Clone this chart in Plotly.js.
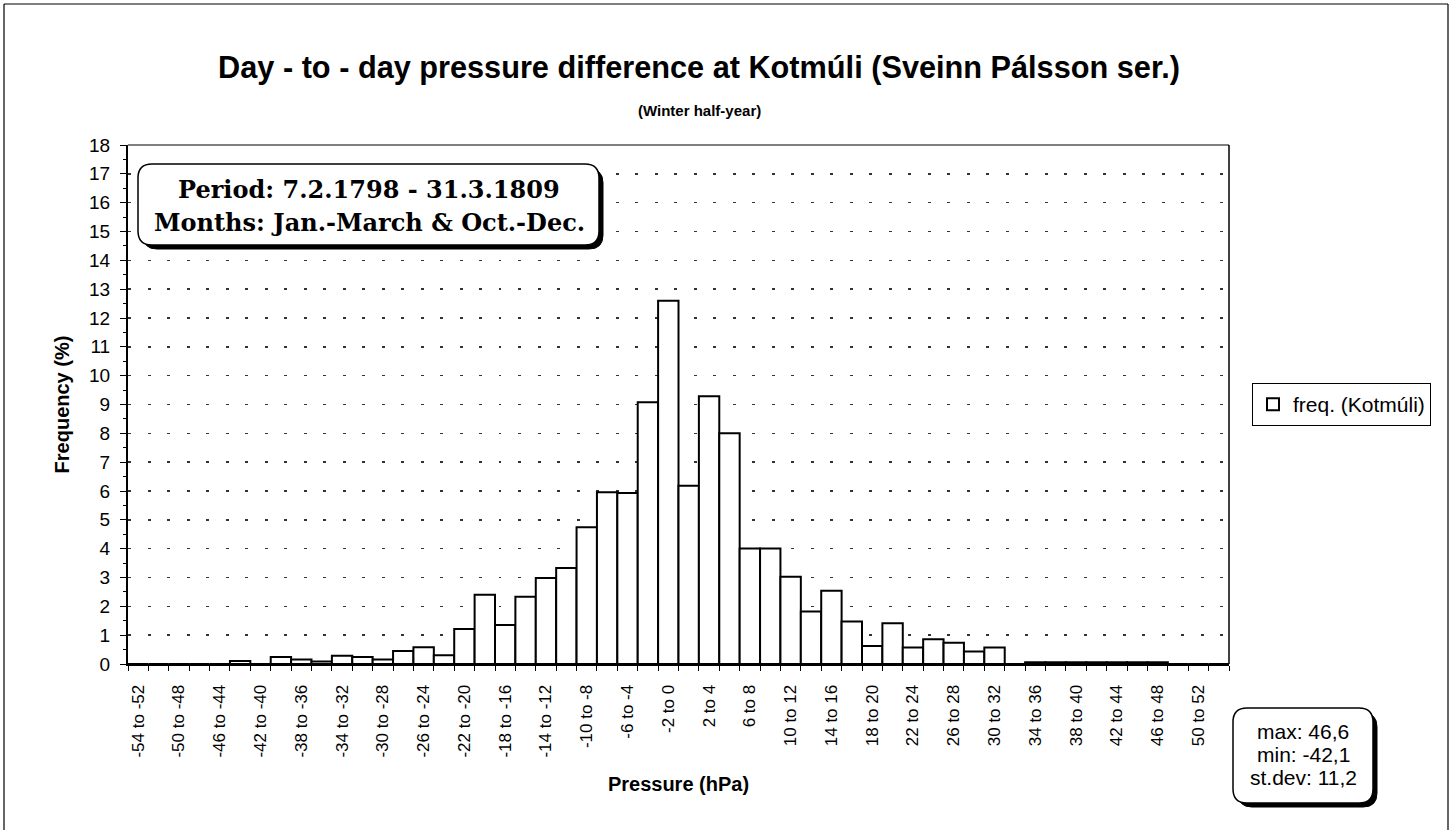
<!DOCTYPE html>
<html>
<head>
<meta charset="utf-8">
<script src="https://cdn.plot.ly/plotly-3.0.1.min.js"></script>
<style>html,body{margin:0;padding:0;background:#fff;}#chart{width:1455px;height:830px;}</style>
</head>
<body>
<div id="chart"></div>
<script>
// ---- data ----
const categories = [
  "-54 to -52","-52 to -50","-50 to -48","-48 to -46","-46 to -44","-44 to -42",
  "-42 to -40","-40 to -38","-38 to -36","-36 to -34","-34 to -32","-32 to -30",
  "-30 to -28","-28 to -26","-26 to -24","-24 to -22","-22 to -20","-20 to -18",
  "-18 to -16","-16 to -14","-14 to -12","-12 to -10","-10 to -8","-8 to -6",
  "-6 to -4","-4 to -2","-2 to 0","0 to 2","2 to 4","4 to 6",
  "6 to 8","8 to 10","10 to 12","12 to 14","14 to 16","16 to 18",
  "18 to 20","20 to 22","22 to 24","24 to 26","26 to 28","28 to 30",
  "30 to 32","32 to 34","34 to 36","36 to 38","38 to 40","40 to 42",
  "42 to 44","44 to 46","46 to 48","48 to 50","50 to 52","52 to 54"
];
const freq = [
  0, 0, 0, 0, 0, 0.10,
  0, 0.24, 0.16, 0.09, 0.29, 0.24,
  0.16, 0.45, 0.58, 0.30, 1.21, 2.40,
  1.35, 2.33, 2.98, 3.33, 4.74, 5.96,
  5.93, 9.08, 12.60, 6.18, 9.29, 8.00,
  4.01, 4.01, 3.03, 1.82, 2.54, 1.47,
  0.62, 1.41, 0.57, 0.86, 0.74, 0.43,
  0.57, 0, 0.06, 0.06, 0.06, 0.06,
  0.06, 0.06, 0.06, 0, 0, 0
];
const seriesName = "freq. (Kotmúli)";
const titleText = "Day - to - day pressure difference at Kotmúli (Sveinn Pálsson ser.)";
const subtitleText = "(Winter half-year)";
const xTitle = "Pressure (hPa)";
const yTitle = "Frequency (%)";
const periodLines = ["Period: 7.2.1798 - 31.3.1809", "Months: Jan.-March & Oct.-Dec."];
const statsLines = ["max: 46,6", "min: -42,1", "st.dev: 11,2"];

// ---- geometry helpers (pixel -> paper) ----
const L = 128, R = 1229, T = 145, B = 664;
const px = x => (x - L) / (R - L);
const py = y => (B - y) / (B - T);
function rrect(x0, y0, x1, y1, r) {
  return `M${px(x0 + r)},${py(y0)} L${px(x1 - r)},${py(y0)} Q${px(x1)},${py(y0)} ${px(x1)},${py(y0 + r)} ` +
         `L${px(x1)},${py(y1 - r)} Q${px(x1)},${py(y1)} ${px(x1 - r)},${py(y1)} ` +
         `L${px(x0 + r)},${py(y1)} Q${px(x0)},${py(y1)} ${px(x0)},${py(y1 - r)} ` +
         `L${px(x0)},${py(y0 + r)} Q${px(x0)},${py(y0)} ${px(x0 + r)},${py(y0)} Z`;
}
const sans = "Liberation Sans, Arial, Helvetica, sans-serif";
const serif = "DejaVu Serif, Liberation Serif, serif";

const trace = {
  type: "bar",
  x: categories,
  y: freq,
  name: seriesName,
  marker: { color: "#ffffff", line: { color: "#000000", width: 2 } },
  showlegend: true,
  hoverinfo: "x+y"
};

const shapes = [
  // plot top & right border
  { type: "line", xref: "paper", yref: "paper", x0: 0, x1: 1, y0: 1, y1: 1, line: { color: "#000", width: 1.2 } },
  { type: "line", xref: "paper", yref: "paper", x0: 1, x1: 1, y0: 0, y1: 1, line: { color: "#000", width: 1.5 } },
  // chart area border (left, top, right)
  { type: "line", xref: "paper", yref: "paper", x0: px(4), x1: px(4), y0: py(4), y1: py(830), line: { color: "#000", width: 1.2 } },
  { type: "line", xref: "paper", yref: "paper", x0: px(4), x1: px(1448), y0: py(4), y1: py(4), line: { color: "#000", width: 1.2 } },
  { type: "line", xref: "paper", yref: "paper", x0: px(1448), x1: px(1448), y0: py(4), y1: py(830), line: { color: "#000", width: 1.2 } },
  // period box shadow + box
  { type: "path", xref: "paper", yref: "paper", path: rrect(143, 169, 603, 249, 14), fillcolor: "#000", line: { color: "#000", width: 1 } },
  { type: "path", xref: "paper", yref: "paper", path: rrect(138, 164, 599, 245, 14), fillcolor: "#fff", line: { color: "#000", width: 1.5 } },
  // stats box shadow + box
  { type: "path", xref: "paper", yref: "paper", path: rrect(1238, 713, 1377, 807, 14), fillcolor: "#000", line: { color: "#000", width: 1 } },
  { type: "path", xref: "paper", yref: "paper", path: rrect(1233, 708, 1373, 803, 14), fillcolor: "#fff", line: { color: "#000", width: 1.5 } }
];

const annotations = [
  { xref: "paper", yref: "paper", x: px(699), y: py(110), text: "<b>" + subtitleText + "</b>", showarrow: false,
    font: { family: sans, size: 15, color: "#000" }, xanchor: "center", yanchor: "middle" },
  { xref: "paper", yref: "paper", x: px(369), y: py(189), text: "<b>" + periodLines[0] + "</b>", showarrow: false,
    font: { family: serif, size: 24, color: "#000" }, xanchor: "center", yanchor: "middle" },
  { xref: "paper", yref: "paper", x: px(369), y: py(222), text: "<b>" + periodLines[1] + "</b>", showarrow: false,
    font: { family: serif, size: 24, color: "#000" }, xanchor: "center", yanchor: "middle" }
];
const statsY = [731, 754, 777];
statsLines.forEach((t, i) => annotations.push({
  xref: "paper", yref: "paper", x: px(1303), y: py(statsY[i]), text: t, showarrow: false,
  font: { family: sans, size: 21, color: "#000" }, xanchor: "center", yanchor: "middle"
}));

const layout = {
  width: 1455, height: 830,
  margin: { l: L, r: 1455 - R, t: T, b: 830 - B, pad: 0 },
  paper_bgcolor: "#fff", plot_bgcolor: "#fff",
  font: { family: sans, color: "#000" },
  title: { text: "<b>" + titleText + "</b>", x: 699 / 1455, xref: "container", xanchor: "center",
           y: 1 - 67 / 830, yref: "container", yanchor: "middle", font: { family: sans, size: 30.7, color: "#000" } },
  bargap: 0,
  xaxis: {
    type: "category", tickmode: "linear", tick0: 0, dtick: 1, tickson: "boundaries",
    ticks: "outside", ticklen: 5, tickwidth: 1, tickcolor: "#000",
    ticklabelstep: 2, tickangle: -90, ticklabelstandoff: 12,
    tickfont: { family: sans, size: 17, color: "#000" },
    showline: true, linecolor: "#000", linewidth: 2, showgrid: false, zeroline: false,
    automargin: false, fixedrange: true,
    title: { text: "<b>" + xTitle + "</b>", font: { family: sans, size: 20, color: "#000" }, standoff: 20 }
  },
  yaxis: {
    range: [0, 18], dtick: 1, tick0: 0, ticks: "outside", ticklen: 6, tickwidth: 1, tickcolor: "#000",
    tickfont: { family: sans, size: 19, color: "#000" }, ticklabelstandoff: 6,
    showline: true, linecolor: "#000", linewidth: 2, zeroline: false,
    showgrid: true, gridcolor: "#333", gridwidth: 1.5, griddash: "3px,16.5px",
    minor: { dtick: 0.5, ticks: "outside", ticklen: 3, tickcolor: "#000", showgrid: false },
    automargin: false, fixedrange: true,
    title: { text: "<b>" + yTitle + "</b>", font: { family: sans, size: 20, color: "#000" }, standoff: 14 }
  },
  showlegend: true,
  legend: {
    x: px(1252), y: py(383), xanchor: "left", yanchor: "top",
    bordercolor: "#000", borderwidth: 1, bgcolor: "#fff",
    font: { family: sans, size: 21, color: "#000" }, itemwidth: 30, tracegroupgap: 0
  },
  shapes: shapes,
  annotations: annotations
};

Plotly.newPlot("chart", [trace], layout, { displayModeBar: false, staticPlot: true });
</script>
</body>
</html>
